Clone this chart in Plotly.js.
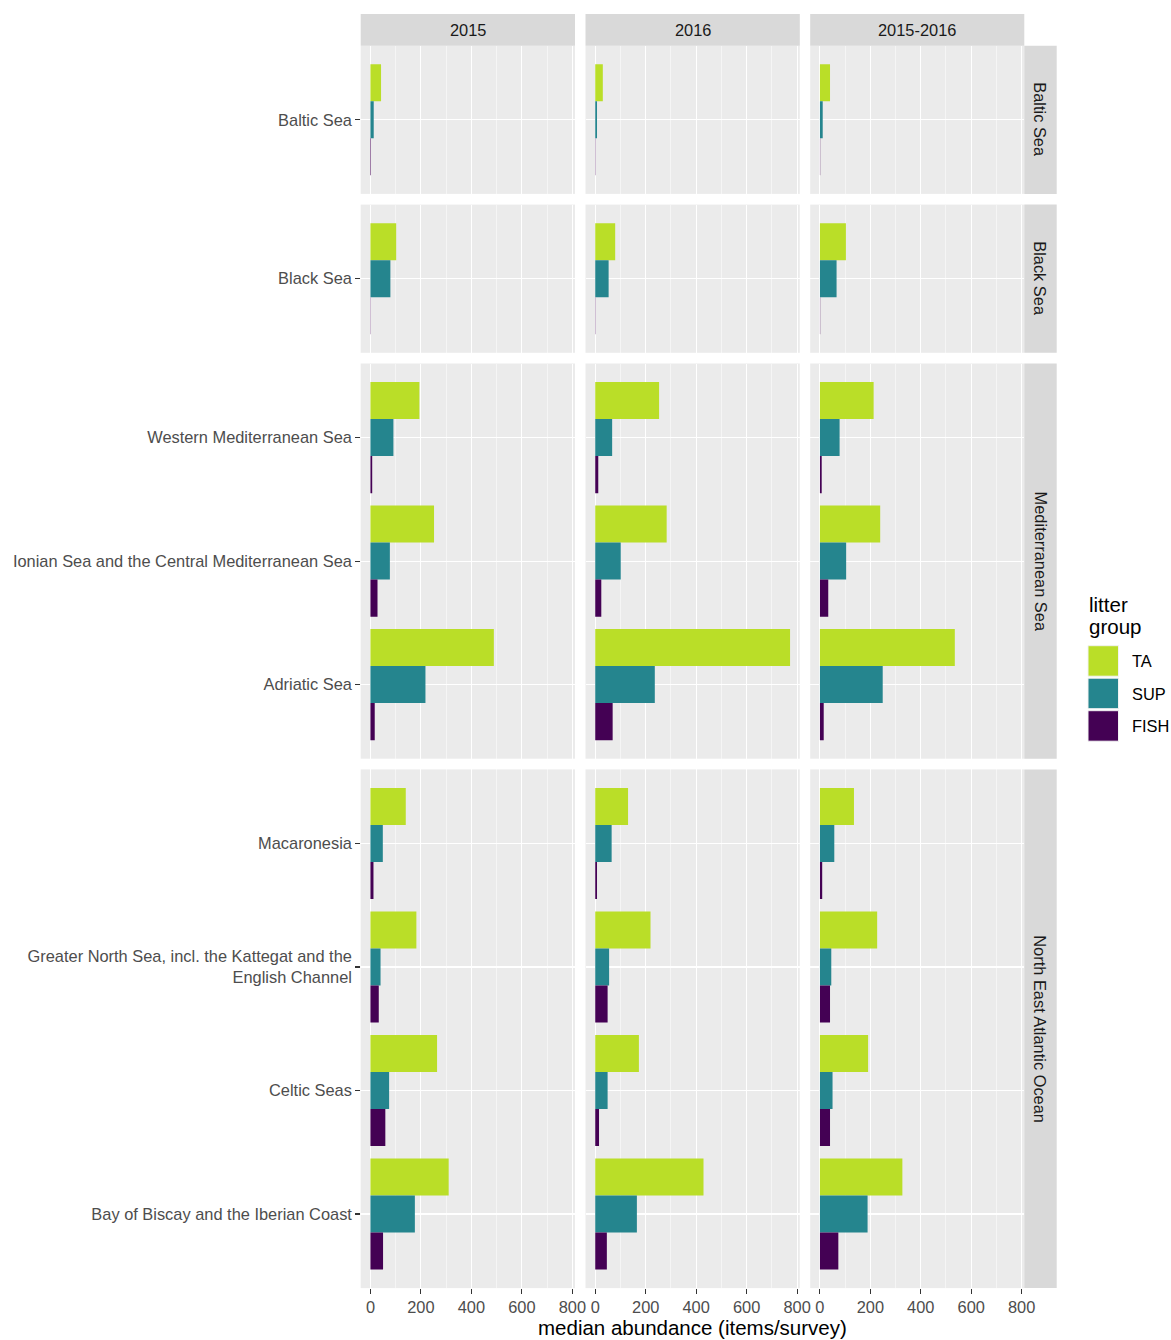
<!DOCTYPE html>
<html>
<head>
<meta charset="utf-8">
<script src="https://cdn.plot.ly/plotly-3.0.1.min.js"></script>
<style>
  html, body { margin: 0; padding: 0; background: #ffffff; }
  #chart { width: 1171px; height: 1340px; }
</style>
</head>
<body>
<div id="chart"></div>
<script>
// ---------------- DATA ----------------
const periods = ['2015', '2016', '2015-2016'];
const regions = ['Baltic Sea', 'Black Sea', 'Mediterranean Sea', 'North East Atlantic Ocean'];
const groups = ['TA', 'SUP', 'FISH'];
const groupColors = ['#BADE28', '#25858E', '#440154'];

const subregions = [
  'Baltic Sea',
  'Black Sea',
  'Western Mediterranean Sea',
  'Ionian Sea and the Central Mediterranean Sea',
  'Adriatic Sea',
  'Macaronesia',
  'Greater North Sea, incl. the Kattegat and the<br>English Channel',
  'Celtic Seas',
  'Bay of Biscay and the Iberian Coast'
];
const subregionRegion = [
  'Baltic Sea',
  'Black Sea',
  'Mediterranean Sea',
  'Mediterranean Sea',
  'Mediterranean Sea',
  'North East Atlantic Ocean',
  'North East Atlantic Ocean',
  'North East Atlantic Ocean',
  'North East Atlantic Ocean'
];

// median abundance (items/survey), in subregion order
const ta2015   = [42, 102, 194, 252, 489, 140, 182, 264, 310];
const sup2015  = [13,  79,  91,  77, 218,  49,  40,  74, 176];
const fish2015 = [ 2,   1,   7,  28,  17,  12,  33,  59,  50];

const ta2016   = [30,  79, 253, 283, 772, 130, 219, 173, 429];
const sup2016  = [ 7,  53,  67, 101, 236,  65,  55,  49, 165];
const fish2016 = [ 1,   1,  12,  24,  69,   7,  49,  15,  46];

const ta1516   = [40, 103, 213, 239, 535, 135, 227, 191, 327];
const sup1516  = [11,  66,  78, 104, 249,  57,  45,  50, 189];
const fish1516 = [ 1,   1,   7,  33,  15,   9,  40,  40,  73];

const xTickVals = [0, 200, 400, 600, 800];
const xTickText = ['0', '200', '400', '600', '800'];
const xAxisTitle = 'median abundance (items/survey)';
const legendTitleLines = ['litter', 'group'];

// table built from the arrays above
const series = {
  '2015':      { TA: ta2015, SUP: sup2015, FISH: fish2015 },
  '2016':      { TA: ta2016, SUP: sup2016, FISH: fish2016 },
  '2015-2016': { TA: ta1516, SUP: sup1516, FISH: fish1516 }
};

// ---------------- LAYOUT GEOMETRY (pixels) ----------------
const W = 1171, H = 1340;
const px = v => v / W;
const py = v => 1 - v / H;
const colBounds = [[360.7, 575.0], [585.5, 799.8], [810.2, 1024.3]];
const rowBounds = [[45.7, 193.9], [204.6, 352.8], [363.5, 758.7], [769.4, 1288.1]];
const stripTop = [14.0, 45.7];
const stripRight = [1024.3, 1056.7];
const FONT = 'Liberation Sans, Arial, Helvetica, sans-serif';

const traces = [];
periods.forEach((p, ci) => {
  regions.forEach((reg, ri) => {
    const idx = subregions.map((s, i) => i).filter(i => subregionRegion[i] === reg);
    groups.forEach((g, gi) => {
      traces.push({
        type: 'bar',
        orientation: 'h',
        name: g,
        showlegend: false,
        y: idx.map(i => subregions[i]),
        x: idx.map(i => series[p][g][i]),
        xaxis: ci === 0 ? 'x' : 'x' + (ci + 1),
        yaxis: ri === 0 ? 'y' : 'y' + (ri + 1),
        marker: { color: groupColors[gi], line: { width: 0 } },
        hovertemplate: p + '<br>%{y}<br>' + g + ': %{x}<extra></extra>'
      });
    });
  });
});

const layout = {
  width: W, height: H,
  margin: { l: 0, r: 0, t: 0, b: 0, pad: 0 },
  paper_bgcolor: '#FFFFFF',
  plot_bgcolor: '#EBEBEB',
  barmode: 'group',
  bargap: 0.1,
  bargroupgap: 0,
  showlegend: false,
  font: { family: FONT, size: 16.4, color: '#4D4D4D' },
  shapes: [],
  annotations: []
};

colBounds.forEach((cb, ci) => {
  const key = ci === 0 ? 'xaxis' : 'xaxis' + (ci + 1);
  layout[key] = {
    domain: [px(cb[0]), px(cb[1])],
    anchor: 'y4',
    range: [-38.6, 810.6],
    automargin: false,
    tickmode: 'array',
    tickvals: xTickVals,
    ticktext: xTickText,
    ticks: 'outside', ticklen: 4.5, tickwidth: 1.1, tickcolor: '#333333',
    tickfont: { family: FONT, size: 16.4, color: '#4D4D4D' },
    showgrid: true, gridcolor: '#FFFFFF', gridwidth: 1.1,
    minor: { tickmode: 'array', tickvals: [100, 300, 500, 700], showgrid: true, gridcolor: '#FFFFFF', gridwidth: 0.5, ticks: '' },
    zeroline: false, showline: false, fixedrange: true
  };
});

rowBounds.forEach((rb, ri) => {
  const key = ri === 0 ? 'yaxis' : 'yaxis' + (ri + 1);
  const n = subregionRegion.filter(r => r === regions[ri]).length;
  layout[key] = {
    domain: [py(rb[1]), py(rb[0])],
    anchor: 'x',
    type: 'category',
    range: [n - 0.4, -0.6],
    automargin: false,
    ticks: 'outside', ticklen: 4.5, tickwidth: 1.1, tickcolor: '#333333',
    tickfont: { family: FONT, size: 16.4, color: '#4D4D4D' },
    showgrid: true, gridcolor: '#FFFFFF', gridwidth: 1.1,
    zeroline: false, showline: false, fixedrange: true
  };
});

// top strips
periods.forEach((p, ci) => {
  const cb = colBounds[ci];
  layout.shapes.push({
    type: 'rect', xref: 'paper', yref: 'paper', layer: 'below',
    x0: px(cb[0]), x1: px(cb[1]), y0: py(stripTop[1]), y1: py(stripTop[0]),
    fillcolor: '#D9D9D9', line: { width: 0 }
  });
  layout.annotations.push({
    xref: 'paper', yref: 'paper', x: px((cb[0] + cb[1]) / 2), y: py((stripTop[0] + stripTop[1]) / 2),
    xanchor: 'center', yanchor: 'middle', showarrow: false, text: p,
    font: { family: FONT, size: 16.4, color: '#1A1A1A' }
  });
});

// right strips
regions.forEach((reg, ri) => {
  const rb = rowBounds[ri];
  layout.shapes.push({
    type: 'rect', xref: 'paper', yref: 'paper', layer: 'below',
    x0: px(stripRight[0]), x1: px(stripRight[1]), y0: py(rb[1]), y1: py(rb[0]),
    fillcolor: '#D9D9D9', line: { width: 0 }
  });
  layout.annotations.push({
    xref: 'paper', yref: 'paper', x: px((stripRight[0] + stripRight[1]) / 2), y: py((rb[0] + rb[1]) / 2),
    xanchor: 'center', yanchor: 'middle', showarrow: false, text: reg, textangle: 90,
    font: { family: FONT, size: 16.4, color: '#1A1A1A' }
  });
});

// x axis title
layout.annotations.push({
  xref: 'paper', yref: 'paper', x: px((colBounds[0][0] + colBounds[2][1]) / 2), y: py(1327.5),
  xanchor: 'center', yanchor: 'middle', showarrow: false, text: xAxisTitle,
  font: { family: FONT, size: 20.5, color: '#000000' }
});

// legend (drawn as keys + labels)
const titleCenters = [604, 627];
legendTitleLines.forEach((t, i) => {
  layout.annotations.push({
    xref: 'paper', yref: 'paper', x: px(1087), y: py(titleCenters[i]),
    xanchor: 'left', yanchor: 'middle', align: 'left', showarrow: false, text: t,
    font: { family: FONT, size: 20.5, color: '#000000' }
  });
});
const keyTop = [645.7, 678.2, 710.7];
groups.forEach((g, gi) => {
  const t = keyTop[gi];
  layout.shapes.push({
    type: 'rect', xref: 'paper', yref: 'paper', layer: 'above',
    x0: px(1088), x1: px(1118.5), y0: py(t + 30.5), y1: py(t),
    fillcolor: groupColors[gi], line: { width: 1, color: '#F2F2F2' }
  });
  layout.annotations.push({
    xref: 'paper', yref: 'paper', x: px(1129.5), y: py(t + 15.5),
    xanchor: 'left', yanchor: 'middle', showarrow: false, text: g,
    font: { family: FONT, size: 16.4, color: '#000000' }
  });
});

Plotly.newPlot('chart', traces, layout, { staticPlot: true, displayModeBar: false });
</script>
</body>
</html>
